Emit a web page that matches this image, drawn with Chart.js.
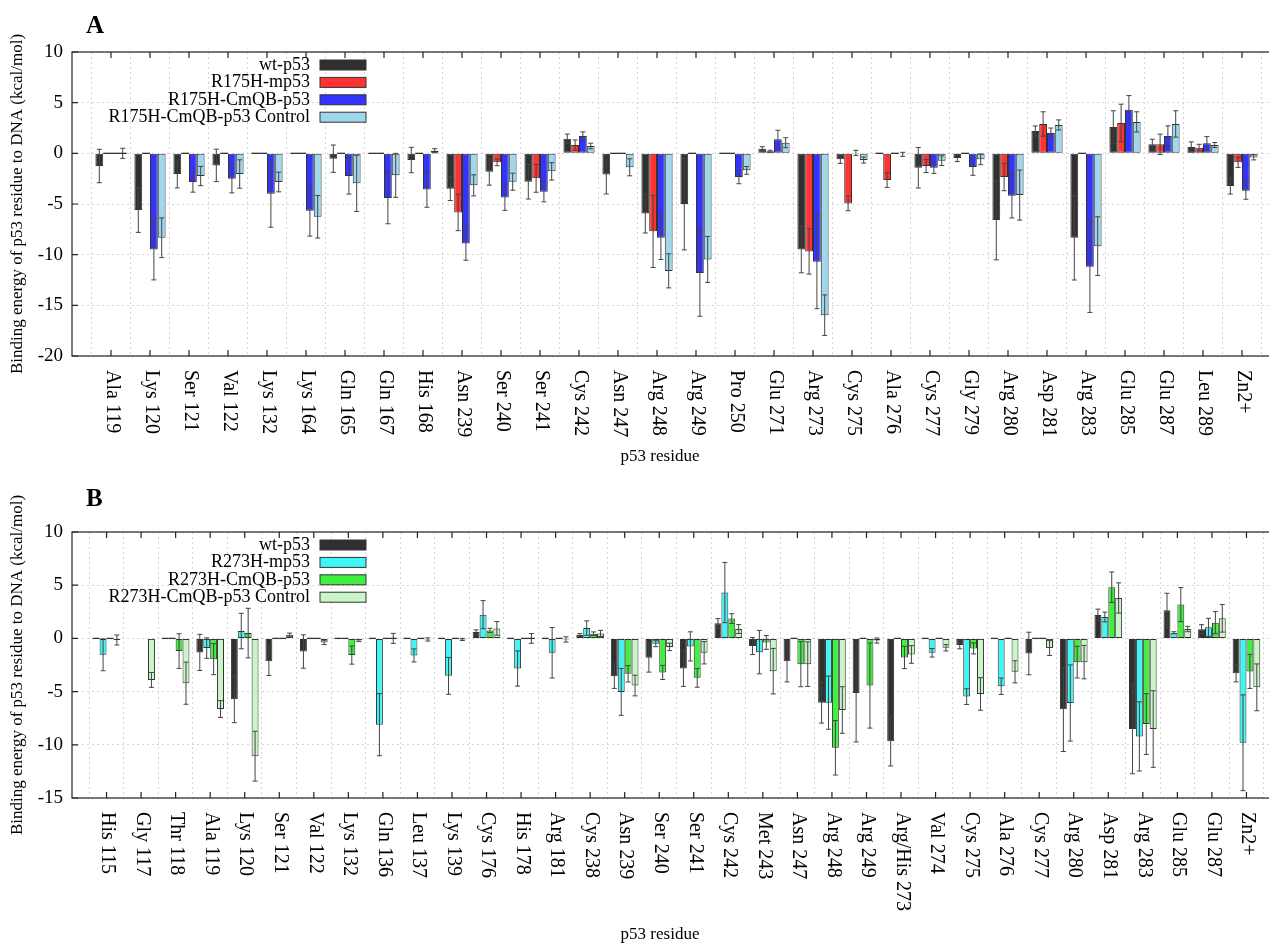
<!DOCTYPE html>
<html>
<head>
<meta charset="utf-8">
<script src="https://cdn.jsdelivr.net/npm/chart.js@4.4.1/dist/chart.umd.min.js"></script>
<style>
html, body { margin: 0; padding: 0; background: #fff; overflow: hidden; }
#wrap { position: relative; width: 1269px; height: 945px; overflow: hidden; }
canvas { position: absolute; left: 0; }
#chartA { top: 0; }
#chartB { top: 475px; }
</style>
</head>
<body>
<div id="wrap">
  <canvas id="chartA" width="1300" height="475"></canvas>
  <canvas id="chartB" width="1300" height="470"></canvas>
</div>
<script>
// ---- panel A data ----
const residuesA = ["Ala 119", "Lys 120", "Ser 121", "Val 122", "Lys 132", "Lys 164", "Gln 165", "Gln 167", "His 168", "Asn 239",
  "Ser 240", "Ser 241", "Cys 242", "Asn 247", "Arg 248", "Arg 249", "Pro 250", "Glu 271", "Arg 273", "Cys 275",
  "Ala 276", "Cys 277", "Gly 279", "Arg 280", "Asp 281", "Arg 283", "Glu 285", "Glu 287", "Leu 289", "Zn2+"];
const labelsA = ["wt-p53", "R175H-mp53", "R175H-CmQB-p53", "R175H-CmQB-p53 Control"];

const wtA = [-1.25, -5.6, -2.04, -1.19, 0, 0, -0.53, 0, -0.66, -3.49, -1.81, -2.8, 1.45, -2.08, -5.93, -5.0, 0, 0.46, -9.49, -0.59,
  0, -1.42, -0.46, -6.59, 2.2, -8.33, 2.6, 0.89, 0.63, -3.23];
const wtAErr = [1.65, 2.2, 1.37, 1.6, 0, 0, 1.35, 0, 1.25, 1.17, 1.33, 1.71, 0.45, 1.93, 1.93, 4.53, 0, 0.2, 2.3, 0.4,
  0, 2.0, 0.35, 3.92, 0.5, 4.17, 1.6, 0.5, 0.5, 0.79];
const mpA = [0, 0, 0, 0, 0, 0, 0, 0, 0, -5.83, -0.89, -2.47, 0.82, 0, -7.7, 0, 0, 0.2, -9.68, -4.94,
  -2.64, -1.25, 0, -2.34, 2.9, 0, 3.0, 0.89, 0.56, -0.89];
const mpAErr = [0, 0, 0, 0, 0, 0, 0, 0, 0, 1.8, 0.33, 1.37, 0.5, 0, 3.56, 0, 0, 0.1, 2.24, 0.72,
  0.72, 0.64, 0, 1.35, 1.2, 0, 1.85, 1.0, 0.33, 0.5];
const cmqbA = [0, -9.49, -2.83, -2.5, -3.99, -5.67, -2.24, -4.41, -3.56, -8.89, -4.35, -3.79, 1.71, 0, -8.33, -11.8, -2.34, 1.38, -10.7, 0.05,
  0, -1.42, -1.35, -4.18, 2.0, -11.2, 4.3, 1.71, 0.99, -3.69];
const cmqbAErr = [0, 3.0, 1.0, 1.4, 3.3, 2.5, 1.78, 2.54, 1.76, 1.66, 1.28, 1.0, 0.41, 0, 2.14, 4.28, 0.66, 0.9, 4.63, 0.25,
  0, 0.56, 0.82, 2.2, 0.5, 4.5, 1.4, 1.0, 0.66, 0.84];
const ctrlA = [0, -8.33, -2.24, -2.04, -2.83, -6.26, -2.96, -2.17, 0.26, -3.16, -2.8, -1.78, 0.72, -1.38, -11.6, -10.47, -1.68, 1.05, -15.97, -0.66,
  -0.1, -0.72, -0.59, -4.12, 2.8, -9.16, 3.1, 2.9, 0.82, -0.4];
const ctrlAErr = [0.5, 1.96, 0.95, 1.4, 0.97, 2.1, 2.77, 2.17, 0.2, 1.04, 0.84, 0.86, 0.28, 0.84, 1.68, 2.27, 0.38, 0.49, 2.0, 0.3,
  0.2, 0.48, 0.53, 2.47, 0.5, 2.9, 1.0, 1.3, 0.25, 0.25];

// ---- panel B data ----
const residuesB = ["His 115", "Gly 117", "Thr 118", "Ala 119", "Lys 120", "Ser 121", "Val 122", "Lys 132", "Gln 136", "Leu 137",
  "Lys 139", "Cys 176", "His 178", "Arg 181", "Cys 238", "Asn 239", "Ser 240", "Ser 241", "Cys 242", "Met 243",
  "Asn 247", "Arg 248", "Arg 249", "Arg/His 273", "Val 274", "Cys 275", "Ala 276", "Cys 277", "Arg 280", "Asp 281",
  "Arg 283", "Glu 285", "Glu 287", "Zn2+"];
const labelsB = ["wt-p53", "R273H-mp53", "R273H-CmQB-p53", "R273H-CmQB-p53 Control"];

const wtB = [0, null, 0, -1.32, -5.72, -2.14, -1.23, 0, 0, 0, 0, 0.6, 0, 0, 0.35, -3.55, -1.82, -2.83, 1.42, -0.72,
  -2.14, -6.04, -5.13, -9.66, 0, -0.63, 0, -1.42, -6.67, 2.2, -8.52, 2.64, 0.85, -3.27];
const wtBErr = [0, 0, 0, 1.7, 2.2, 1.34, 1.57, 0, 0, 0, 0, 0.2, 0, 0, 0.1, 1.15, 1.35, 1.68, 0.44, 0.8,
  1.95, 1.92, 4.6, 2.33, 0, 0.35, 0, 2.0, 3.96, 0.55, 4.2, 1.6, 0.44, 0.82];
const mpB = [-1.54, null, 0, -0.91, 0.69, 0, 0, 0, -8.11, -1.6, -3.52, 2.23, -2.83, -1.35, 0.97, -5.03, -0.5, -0.75, 4.31, -1.29,
  0, -6.04, 0, 0, -1.35, -5.47, -4.5, 0, -6.07, 2.01, -9.21, 0.53, 1.04, -9.81];
const mpBErr = [1.5, 0, 0, 0.96, 1.67, 0, 0, 0, 2.92, 0.61, 1.73, 1.32, 1.65, 2.37, 0.68, 2.2, 0.28, 1.37, 2.83, 2.04,
  0, 2.5, 0, 0, 0.4, 0.74, 0.77, 0, 3.58, 0.46, 3.25, 0.1, 0.85, 4.5];
const cmqbB = [0, null, -1.19, -1.95, 0.5, 0, 0, -1.57, 0, 0, 0, 0.75, 0, 0, 0.44, -3.33, -3.2, -3.71, 1.86, -0.38,
  -2.42, -10.28, -4.43, -1.79, 0, -0.94, 0, 0, -2.23, 4.81, -8.05, 3.18, 1.48, -3.1];
const cmqbBErr = [0, 0, 1.63, 1.46, 2.33, 0, 0, 0.85, 0, 0, 0, 0.2, 0, 0, 0.17, 0.77, 0.66, 0.88, 0.46, 0.65,
  2.12, 2.56, 4.0, 1.05, 0, 0.52, 0, 0, 1.49, 1.43, 2.86, 1.6, 1.04, 1.6];
const ctrlB = [-0.15, -3.9, -4.21, -6.64, -11.07, 0.35, -0.38, -0.2, 0, -0.1, -0.1, 0.94, 0, -0.1, 0.47, -4.43, -0.8, -1.35, 0.88, -3.08,
  -2.42, -6.73, -0.2, -1.51, -0.88, -5.22, -3.14, -0.91, -2.23, 3.8, -8.52, 0.88, 1.89, -4.6];
const ctrlBErr = [0.47, 0.7, 1.98, 0.79, 2.34, 0.15, 0.2, 0.1, 0.47, 0.15, 0.1, 0.64, 0.46, 0.25, 0.28, 0.97, 0.35, 1.05, 0.42, 2.14,
  2.1, 2.19, 0.24, 0.83, 0.3, 1.53, 1.04, 0.7, 1.57, 1.42, 3.6, 0.25, 1.3, 2.2];

const colorsA = ["#303030", "#ff3333", "#3333ff", "#9fd7ef"];
const colorsB = ["#303030", "#3ff5f5", "#3ff03f", "#c9f5c9"];

const yTitle = "Binding energy of p53 residue to DNA (kcal/mol)";
const xTitle = "p53 residue";
const serif = "'Liberation Serif', 'Times New Roman', serif";

// error bars, zero-height bars, frame, ticks, rotated labels, legend
const panelPlugin = {
    id: "panelDecor",
    afterDatasetsDraw(chart) {
        let ctx = chart.ctx;
        let y = chart.scales.y;
        let zero = y.getPixelForValue(0);
        ctx.save();
        ctx.lineWidth = 1;
        chart.data.datasets.forEach(function (ds, i) {
            let meta = chart.getDatasetMeta(i);
            meta.data.forEach(function (bar, j) {
                let v = ds.data[j];
                if (v === null || v === undefined) {
                    return;
                }
                ctx.strokeStyle = "#333";
                if (v === 0) {
                    ctx.lineWidth = 1.3;
                    ctx.beginPath();
                    ctx.moveTo(bar.x - bar.width / 2, zero);
                    ctx.lineTo(bar.x + bar.width / 2, zero);
                    ctx.stroke();
                    ctx.lineWidth = 1;
                }
                let e = ds.errors[j];
                if (!e) {
                    return;
                }
                let y1 = y.getPixelForValue(v + e);
                let y2 = y.getPixelForValue(v - e);
                ctx.strokeStyle = "#444";
                ctx.beginPath();
                ctx.moveTo(bar.x, y1);
                ctx.lineTo(bar.x, y2);
                ctx.moveTo(bar.x - 2.5, y1);
                ctx.lineTo(bar.x + 2.5, y1);
                ctx.moveTo(bar.x - 2.5, y2);
                ctx.lineTo(bar.x + 2.5, y2);
                ctx.stroke();
            });
        });
        ctx.restore();
    },
    afterDraw(chart, args, opts) {
        let ctx = chart.ctx;
        let area = chart.chartArea;
        let x = chart.scales.x;
        let y = chart.scales.y;
        ctx.save();

        // frame
        ctx.strokeStyle = "#222";
        ctx.lineWidth = 1.2;
        ctx.strokeRect(area.left, area.top, area.right - area.left, area.bottom - area.top);

        // inward ticks
        ctx.beginPath();
        for (let i = 1; i <= opts.residues.length; i++) {
            let px = x.getPixelForValue(i);
            ctx.moveTo(px, area.bottom);
            ctx.lineTo(px, area.bottom - 6);
            ctx.moveTo(px, area.top);
            ctx.lineTo(px, area.top + 6);
        }
        y.ticks.forEach(function (t) {
            let py = y.getPixelForValue(t.value);
            ctx.moveTo(area.left, py);
            ctx.lineTo(area.left + 6, py);
            ctx.moveTo(area.right, py);
            ctx.lineTo(area.right - 6, py);
        });
        ctx.stroke();

        // rotated residue labels
        ctx.fillStyle = "#000";
        ctx.font = "20px " + serif;
        ctx.textAlign = "left";
        ctx.textBaseline = "middle";
        opts.residues.forEach(function (name, i) {
            let px = x.getPixelForValue(i + 1);
            ctx.save();
            ctx.translate(px + 1, area.bottom + 14);
            ctx.rotate(Math.PI / 2);
            ctx.fillText(name, 0, 0);
            ctx.restore();
        });

        // axis titles
        ctx.font = "17px " + serif;
        ctx.textAlign = "center";
        ctx.textBaseline = "middle";
        ctx.fillText(xTitle, 660, opts.xTitleY);
        ctx.save();
        ctx.translate(18, (area.top + area.bottom) / 2);
        ctx.rotate(-Math.PI / 2);
        ctx.fillText(yTitle, 0, 0);
        ctx.restore();

        // panel letter
        ctx.font = "bold 25px " + serif;
        ctx.textAlign = "left";
        ctx.textBaseline = "alphabetic";
        ctx.fillText(opts.letter, 86, opts.letterY);

        // legend: text right-aligned, box on the right
        ctx.font = "18px " + serif;
        ctx.textAlign = "right";
        ctx.textBaseline = "middle";
        chart.data.datasets.forEach(function (ds, i) {
            let ry = area.top + 13 + i * 17.4;
            ctx.fillStyle = "#000";
            ctx.fillText(ds.label, 310, ry);
            ctx.fillStyle = ds.backgroundColor;
            ctx.fillRect(320, ry - 5, 46, 10);
            ctx.strokeStyle = "#333";
            ctx.lineWidth = 1;
            ctx.strokeRect(320, ry - 5, 46, 10);
        });
        ctx.restore();
    }
};

function makePanel(canvasId, residues, names, values, errors, colors, yMin, yMax, areaTop, xHeight, letter, letterY, xTitleY) {
    "use strict";

    let labels = [""].concat(residues, [""]);
    let datasets = [];
    for (let i = 0; i < names.length; i++) {
        datasets.push({
            "label": names[i],
            "data": [null].concat(values[i], [null]),
            "errors": [0].concat(errors[i], [0]),
            "backgroundColor": colors[i],
            "borderColor": "#333",
            "borderWidth": 1,
            "borderSkipped": false,
            "categoryPercentage": 0.8,
            "barPercentage": 1.0
        });
    }

    let canvas = document.getElementById(canvasId);
    return new Chart(canvas, {
        "type": "bar",
        "data": {
            "labels": labels,
            "datasets": datasets
        },
        "options": {
            responsive: false,
            animation: false,
            events: [],
            layout: { padding: { top: areaTop, left: 0, right: 19, bottom: 0 } },
            plugins: {
                legend: { display: false },
                tooltip: { enabled: false },
                panelDecor: { residues: residues, letter: letter, letterY: letterY, xTitleY: xTitleY }
            },
            scales: {
                x: {
                    offset: false,
                    ticks: { display: false },
                    grid: { color: "#d4d4d4", drawTicks: false },
                    border: { display: false, dash: [2, 3] },
                    afterFit: function (s) { s.height = xHeight; }
                },
                y: {
                    min: yMin,
                    max: yMax,
                    ticks: {
                        stepSize: 5,
                        padding: 9,
                        color: "#000",
                        font: { family: serif, size: 19 }
                    },
                    grid: { color: "#d4d4d4", drawTicks: false },
                    border: { display: false, dash: [2, 3] },
                    afterFit: function (s) { s.width = 72; }
                }
            }
        },
        plugins: [panelPlugin]
    });
}

makePanel("chartA", residuesA, labelsA,
    [wtA, mpA, cmqbA, ctrlA], [wtAErr, mpAErr, cmqbAErr, ctrlAErr],
    colorsA, -20, 10, 52, 119, "A", 33, 457);

makePanel("chartB", residuesB, labelsB,
    [wtB, mpB, cmqbB, ctrlB], [wtBErr, mpBErr, cmqbBErr, ctrlBErr],
    colorsB, -15, 10, 57, 147, "B", 31, 460);
</script>
</body>
</html>
